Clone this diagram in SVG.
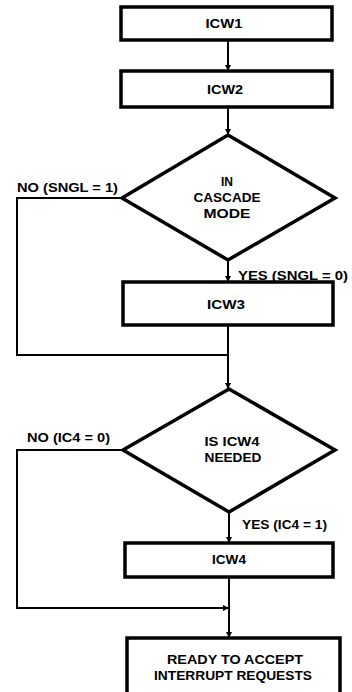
<svg xmlns="http://www.w3.org/2000/svg" width="352" height="692" viewBox="0 0 352 692">
<style>
.box{fill:#fff;stroke:#000;stroke-width:3.5}
.dia{fill:#fff;stroke:#000;stroke-width:3.5;stroke-linejoin:miter}
.ln{fill:none;stroke:#000;stroke-width:2}
.t{font-family:"Liberation Sans",Arial,sans-serif;font-weight:bold;font-size:12px;fill:#000;text-anchor:middle}
.l{font-family:"Liberation Sans",Arial,sans-serif;font-weight:bold;font-size:12px;fill:#000}
</style>
<defs>
<marker id="ah" markerWidth="6" markerHeight="6" refX="5" refY="3" orient="auto" markerUnits="userSpaceOnUse">
<path d="M0,0 L6,3 L0,6 z" fill="#000"/>
</marker>
</defs>
<rect width="352" height="692" fill="#fff"/>
<g id="connectors">
<path class="ln" d="M228,40 V70" marker-end="url(#ah)"/>
<path class="ln" d="M228,107 V134" marker-end="url(#ah)"/>
<path class="ln" d="M228,260 V281" marker-end="url(#ah)"/>
<path class="ln" d="M122,198 H17 V355 H228"/>
<path class="ln" d="M228,325 V388" marker-end="url(#ah)"/>
<path class="ln" d="M229,512 V542" marker-end="url(#ah)"/>
<path class="ln" d="M123,450 H17 V608 H228" marker-end="url(#ah)"/>
<path class="ln" d="M229,577 V637" marker-end="url(#ah)"/>
<text class="l" x="17" y="192" textLength="101" lengthAdjust="spacingAndGlyphs">NO (SNGL = 1)</text>
<text class="l" x="238" y="280" textLength="110" lengthAdjust="spacingAndGlyphs">YES (SNGL  =  0)</text>
<text class="l" x="27" y="442" textLength="83" lengthAdjust="spacingAndGlyphs">NO (IC4 = 0)</text>
<text class="l" x="242" y="529" textLength="85" lengthAdjust="spacingAndGlyphs">YES (IC4 = 1)</text>
</g>
<g id="icw1">
<rect class="box" x="121" y="7" width="211" height="33"/>
<text class="t" x="224" y="28" textLength="37" lengthAdjust="spacingAndGlyphs">ICW1</text>
</g>
<g id="icw2">
<rect class="box" x="121" y="71" width="211" height="36"/>
<text class="t" x="225" y="94" textLength="36" lengthAdjust="spacingAndGlyphs">ICW2</text>
</g>
<g id="cascade">
<polygon class="dia" points="228,135 335,198 228,260 122,198"/>
<text class="t" x="227" y="186">IN</text>
<text class="t" x="227" y="202" textLength="67" lengthAdjust="spacingAndGlyphs">CASCADE</text>
<text class="t" x="227" y="218" textLength="47" lengthAdjust="spacingAndGlyphs">MODE</text>
</g>
<g id="icw3">
<rect class="box" x="123" y="282" width="210" height="43"/>
<text class="t" x="226" y="309" textLength="38" lengthAdjust="spacingAndGlyphs">ICW3</text>
</g>
<g id="icw4needed">
<polygon class="dia" points="229,389 335,450 229,512 123,450"/>
<text class="t" x="232" y="446" textLength="55" lengthAdjust="spacingAndGlyphs">IS ICW4</text>
<text class="t" x="233" y="462" textLength="57" lengthAdjust="spacingAndGlyphs">NEEDED</text>
</g>
<g id="icw4">
<rect class="box" x="125" y="543" width="208" height="34"/>
<text class="t" x="229" y="564" textLength="34" lengthAdjust="spacingAndGlyphs">ICW4</text>
</g>
<g id="ready">
<rect class="box" x="127" y="638" width="213" height="62"/>
<text class="t" x="235" y="664" textLength="136" lengthAdjust="spacingAndGlyphs">READY TO ACCEPT</text>
<text class="t" x="233" y="680" textLength="158" lengthAdjust="spacingAndGlyphs">INTERRUPT REQUESTS</text>
</g>
</svg>
